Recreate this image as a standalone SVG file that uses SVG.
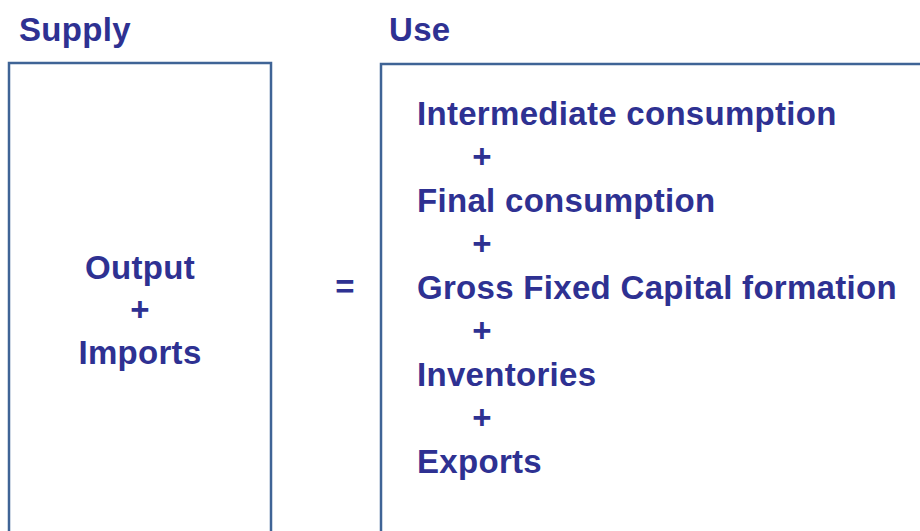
<svg xmlns="http://www.w3.org/2000/svg" width="920" height="531" viewBox="0 0 920 531">
  <style>
    .lbl { font-family: "Liberation Sans", Arial, sans-serif; font-weight: bold; font-size: 33px; letter-spacing: 0.3px; fill: #2e3192; }
    .mid { text-anchor: middle; }
    .box { fill: none; stroke: #3f6496; stroke-width: 2.5; }
  </style>
  <rect width="920" height="531" fill="#ffffff"/>

  <!-- column headings -->
  <text class="lbl" x="19" y="41">Supply</text>
  <text class="lbl" x="389" y="41">Use</text>

  <!-- supply side -->
  <g id="supply">
    <path class="box" d="M9,535 V63 H271 V535"/>
    <text class="lbl mid" x="140" y="279">Output</text>
    <text class="lbl mid" x="140" y="321">+</text>
    <text class="lbl mid" x="140" y="364">Imports</text>
  </g>

  <!-- equality sign between the two sides -->
  <g id="equals">
    <text class="lbl mid" x="345" y="298">=</text>
  </g>

  <!-- use side -->
  <g id="use">
    <path class="box" d="M381,535 V64 H925"/>
    <text class="lbl" x="417" y="125">Intermediate consumption</text>
    <text class="lbl mid" x="482" y="168">+</text>
    <text class="lbl" x="417" y="212">Final consumption</text>
    <text class="lbl mid" x="482" y="255">+</text>
    <text class="lbl" x="417" y="299">Gross Fixed Capital formation</text>
    <text class="lbl mid" x="482" y="342">+</text>
    <text class="lbl" x="417" y="386">Inventories</text>
    <text class="lbl mid" x="482" y="429">+</text>
    <text class="lbl" x="417" y="473">Exports</text>
  </g>
</svg>
